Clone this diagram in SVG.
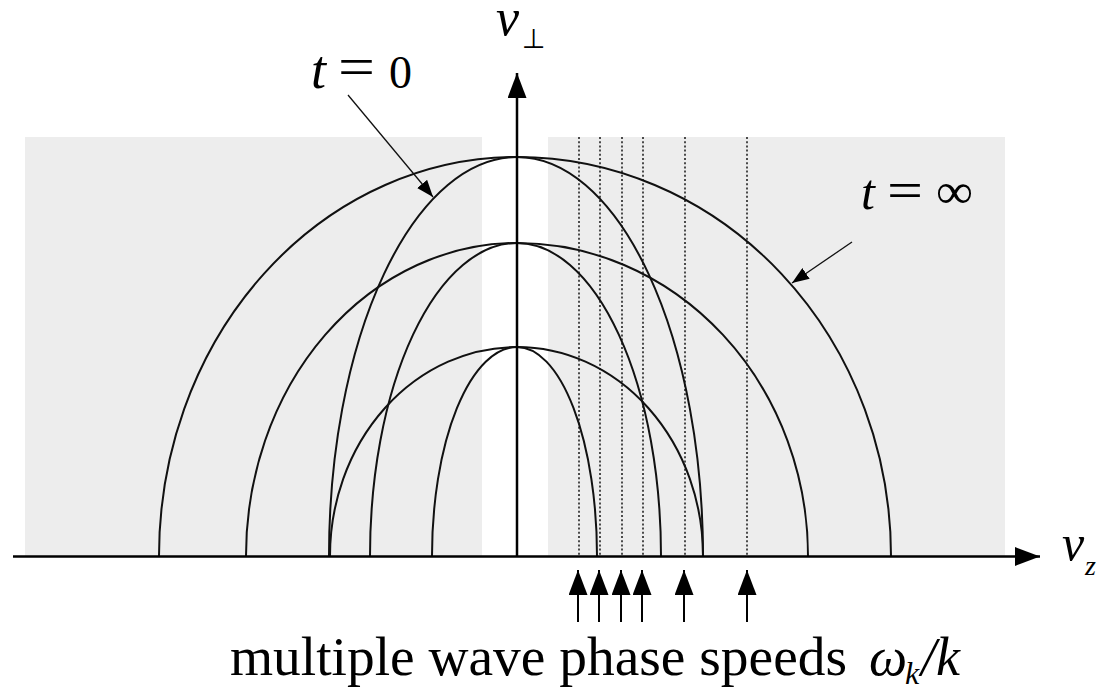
<svg xmlns="http://www.w3.org/2000/svg" width="1106" height="689" viewBox="0 0 1106 689">
<style>
.bg{fill:#ededed}
.arc{fill:none;stroke:#111;stroke-width:2}
.axis{stroke:#000;stroke-width:2.5;fill:none}
.dot{stroke:#222;stroke-width:1.6;stroke-dasharray:2 2.2;fill:none}
.ph{stroke:#000;stroke-width:2;fill:none}
.lbl{stroke:#111;stroke-width:1.3;fill:none}
.it{font-family:"Liberation Serif",serif;font-style:italic;fill:#000}
.rm{font-family:"Liberation Serif",serif;fill:#000}
</style>
<defs>
<marker id="ah" viewBox="0 0 25 19" refX="25" refY="9.5" markerWidth="25" markerHeight="19" orient="auto" markerUnits="userSpaceOnUse"><path d="M0,0 L25,9.5 L0,19 z" fill="#000"/></marker>
<marker id="sh" viewBox="0 0 17 13" refX="17" refY="6.5" markerWidth="17" markerHeight="13" orient="auto" markerUnits="userSpaceOnUse"><path d="M0,0 L17,6.5 L0,13 z" fill="#000"/></marker>
</defs>
<rect width="1106" height="689" fill="#fff"/>
<g id="background">
<rect class="bg" x="25" y="137" width="457" height="419"/>
<rect class="bg" x="548" y="137" width="457" height="419"/>
</g>
<g id="phase-lines">
<line class="dot" x1="579" y1="137" x2="579" y2="556"/>
<line class="dot" x1="600" y1="137" x2="600" y2="556"/>
<line class="dot" x1="622" y1="137" x2="622" y2="556"/>
<line class="dot" x1="643" y1="137" x2="643" y2="556"/>
<line class="dot" x1="685" y1="137" x2="685" y2="556"/>
<line class="dot" x1="747" y1="137" x2="747" y2="556"/>
</g>
<g id="curves">
<path class="arc" d="M159,556 A358,399 0 0 1 517,157 A374,399 0 0 1 891,556"/>
<path class="arc" d="M329,556 A188,399 0 0 1 517,157 A186,399 0 0 1 703,556"/>
<path class="arc" d="M246,556 A271,313 0 0 1 517,243 A291,313 0 0 1 808,556"/>
<path class="arc" d="M370,556 A147,313 0 0 1 517,243 A144,313 0 0 1 661,556"/>
<path class="arc" d="M330,556 A187,209 0 0 1 517,347 A186,209 0 0 1 703,556"/>
<path class="arc" d="M432,556 A85,209 0 0 1 517,347 A80,209 0 0 1 597,556"/>
</g>
<g id="connectors">
<line class="axis" x1="13" y1="556.5" x2="1040" y2="556.5" marker-end="url(#ah)"/>
<line class="axis" x1="517" y1="556" x2="517" y2="73" marker-end="url(#ah)"/>
<line class="ph" x1="578" y1="622" x2="578" y2="570" marker-end="url(#ah)"/>
<line class="ph" x1="599" y1="622" x2="599" y2="570" marker-end="url(#ah)"/>
<line class="ph" x1="621" y1="622" x2="621" y2="570" marker-end="url(#ah)"/>
<line class="ph" x1="642" y1="622" x2="642" y2="570" marker-end="url(#ah)"/>
<line class="ph" x1="684" y1="622" x2="684" y2="570" marker-end="url(#ah)"/>
<line class="ph" x1="747" y1="622" x2="747" y2="570" marker-end="url(#ah)"/>
<line class="lbl" x1="348" y1="95" x2="433" y2="197" marker-end="url(#sh)"/>
<line class="lbl" x1="852" y1="242" x2="792" y2="283" marker-end="url(#sh)"/>
</g>
<g id="label-vperp">
<text class="it" x="496" y="35" font-size="52">v</text>
<text x="522" y="48" font-size="27" font-family="DejaVu Sans,sans-serif" fill="#000">⊥</text>
</g>
<g id="label-t0">
<text class="it" x="311" y="88" font-size="54">t</text>
<text class="rm" x="338" y="86" font-size="56" textLength="37" lengthAdjust="spacingAndGlyphs">=</text>
<text class="rm" x="389" y="88" font-size="46">0</text>
</g>
<g id="label-tinf">
<text class="it" x="861" y="209" font-size="50">t</text>
<text class="rm" x="887" y="208" font-size="52" textLength="36" lengthAdjust="spacingAndGlyphs">=</text>
<text class="rm" x="936" y="208" font-size="50" textLength="37" lengthAdjust="spacingAndGlyphs">∞</text>
</g>
<g id="label-vz">
<text class="it" x="1062" y="560" font-size="50">v</text>
<text class="it" x="1085" y="575" font-size="28" fill="#777">z</text>
</g>
<g id="caption">
<text class="rm" x="230" y="675" font-size="54" textLength="617" lengthAdjust="spacingAndGlyphs">multiple wave phase speeds</text>
<text class="it" x="869" y="675" font-size="54">ω</text>
<text class="it" x="905" y="684" font-size="32">k</text>
<text class="it" x="921" y="675" font-size="54">/k</text>
</g>
</svg>
